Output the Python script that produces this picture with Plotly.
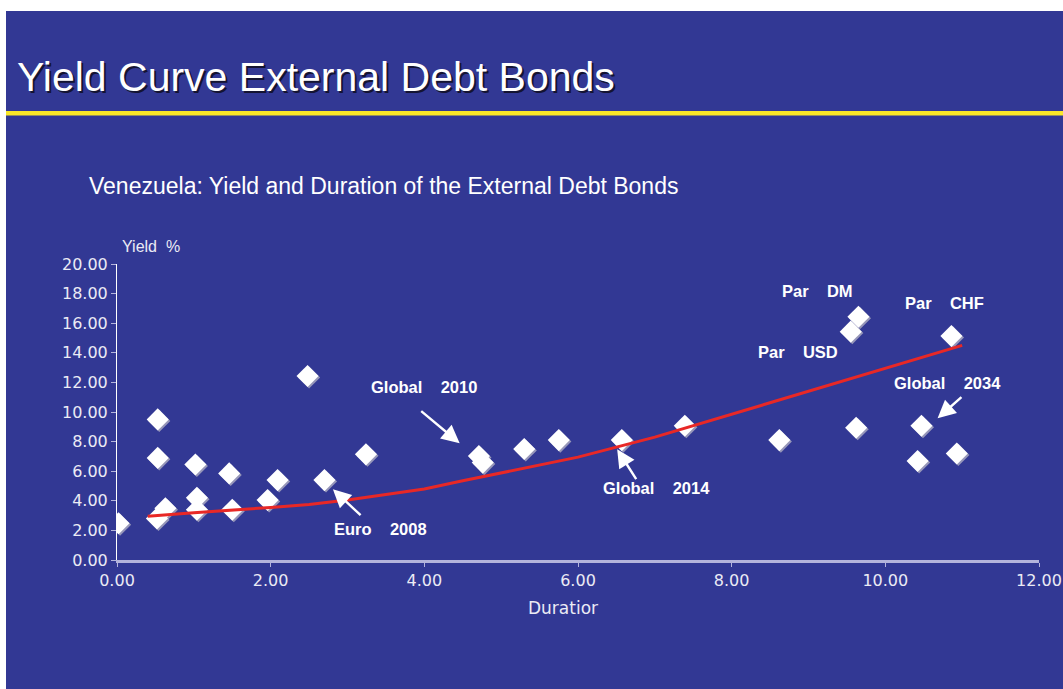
import plotly.graph_objects as go

# Bond duration (years) and yield (%)
duration = [0.02, 0.53, 0.53, 0.52, 0.63, 1.02, 1.04, 1.04, 1.46, 1.50,
            1.96, 2.09, 2.48, 2.70, 3.24, 4.71, 4.76, 5.30, 5.75, 6.57,
            7.39, 8.62, 9.62, 9.55, 9.65, 10.86, 10.47, 10.42, 10.93]
yield_pct = [2.48, 9.50, 6.90, 2.80, 3.50, 6.45, 4.20, 3.40, 5.85, 3.40,
             4.05, 5.40, 12.43, 5.40, 7.14, 7.03, 6.58, 7.50, 8.10, 8.10,
             9.07, 8.10, 8.94, 15.43, 16.44, 15.14, 9.07, 6.69, 7.20]

# Fitted yield curve
trend_x = [0.4, 1.0, 2.0, 2.5, 3.0, 3.5, 4.0, 4.5, 5.0, 6.0, 7.0, 8.0, 9.0, 10.0, 11.0]
trend_y = [2.95, 3.2, 3.55, 3.75, 4.05, 4.4, 4.8, 5.35, 5.9, 6.95, 8.3, 9.85, 11.4, 12.9, 14.5]

x_ticks = [0, 2, 4, 6, 8, 10, 12]
y_ticks = [0, 2, 4, 6, 8, 10, 12, 14, 16, 18, 20]

# Bond labels: (text, text_x, text_y)
labels = [
    ("Global    2010", 4.00, 11.69),
    ("Euro    2008", 3.43, 2.09),
    ("Global    2014", 7.02, 4.84),
    ("Global    2034", 10.81, 11.94),
    ("Par    DM", 9.12, 18.20),
    ("Par    CHF", 10.77, 17.39),
    ("Par    USD", 8.86, 14.07),
]
# Pointer arrows: (tail_x, tail_y, head_x, head_y)
arrows = [
    (3.94, 10.14, 4.46, 7.89),
    (3.19, 2.93, 2.81, 4.78),
    (6.77, 5.36, 6.51, 7.48),
    (11.01, 11.10, 10.68, 9.57),
]

W, H = 1063, 689
ML, MR, MT, MB = 117, 24, 264, 129
PW, PH = W - ML - MR, H - MT - MB


def px_x(p):
    return (p - ML) / PW


def px_y(p):
    return (H - MB - p) / PH


BLUE = "rgb(50,56,148)"
TXT = "rgb(235,235,245)"
LAV = "rgb(180,180,220)"

fig = go.Figure()

# subtle drop shadow under the diamonds
fig.add_trace(go.Scatter(
    x=[v + 0.02 for v in duration], y=[v - 0.1 for v in yield_pct],
    mode="markers", hoverinfo="skip",
    marker=dict(symbol="diamond", size=17, color="rgb(150,150,185)", line=dict(width=0)),
    showlegend=False))
fig.add_trace(go.Scatter(
    x=duration, y=yield_pct, mode="markers",
    marker=dict(symbol="diamond", size=17, color="white", line=dict(width=0)),
    showlegend=False))
fig.add_trace(go.Scatter(
    x=trend_x, y=trend_y, mode="lines",
    line=dict(color="rgb(232,40,38)", width=3),
    showlegend=False))

shapes = [
    dict(type="rect", xref="paper", yref="paper", layer="below",
         x0=px_x(6), x1=px_x(W + 5), y0=px_y(H + 5), y1=px_y(11),
         fillcolor=BLUE, line=dict(width=0)),
    dict(type="rect", xref="paper", yref="paper", layer="below",
         x0=px_x(6), x1=px_x(W + 5), y0=px_y(115.5), y1=px_y(111),
         fillcolor="rgb(250,232,40)", line=dict(width=0)),
]

annotations = []
# title with shadow
title = "Yield Curve External Debt Bonds"
for dx, dy, col in [(2, 2, "rgb(20,20,50)"), (0, 0, "white")]:
    annotations.append(dict(
        text=title, xref="paper", yref="paper",
        x=px_x(15 + dx), y=px_y(77 + dy), xanchor="left", yanchor="middle",
        showarrow=False, font=dict(family="Liberation Sans, Arial", size=41, color=col)))

annotations.append(dict(
    text="Venezuela: Yield and Duration of the External Debt Bonds",
    xref="paper", yref="paper", x=px_x(87), y=px_y(186),
    xanchor="left", yanchor="middle", showarrow=False,
    font=dict(family="Liberation Sans, Arial", size=23, color="white")))

annotations.append(dict(
    text="Yield\u00a0\u00a0%", xref="paper", yref="paper", x=px_x(120), y=px_y(246),
    xanchor="left", yanchor="middle", showarrow=False,
    font=dict(family="Liberation Sans, Arial", size=16, color=TXT)))

annotations.append(dict(
    text="Duratior", xref="paper", yref="paper", x=px_x(563), y=px_y(608),
    xanchor="center", yanchor="middle", showarrow=False,
    font=dict(family="DejaVu Sans", size=17, color=TXT)))

for text, tx, ty in labels:
    annotations.append(dict(
        text="<b>" + text.replace(" ", "\u00a0") + "</b>", x=tx, y=ty,
        xref="x", yref="y", showarrow=False, xanchor="center", yanchor="middle",
        font=dict(family="Liberation Sans, Arial", size=16.5, color="white")))

for x0, y0, x1, y1 in arrows:
    annotations.append(dict(
        text="", x=x1, y=y1, ax=x0, ay=y0, xref="x", yref="y", axref="x", ayref="y",
        showarrow=True, arrowhead=2, arrowsize=1.5, arrowwidth=2.4, arrowcolor="white"))

fig.update_layout(
    width=W, height=H,
    margin=dict(l=ML, r=MR, t=MT, b=MB, pad=0, autoexpand=False),
    paper_bgcolor="white", plot_bgcolor="rgba(0,0,0,0)",
    shapes=shapes, annotations=annotations,
    xaxis=dict(range=[0, 12], tickvals=x_ticks, tickformat=".2f",
               showgrid=False, zeroline=False, automargin=False,
               showline=True, linecolor=LAV, linewidth=3,
               ticks="outside", ticklen=4, tickcolor=LAV, tickwidth=1,
               tickfont=dict(family="DejaVu Sans", size=16, color=TXT)),
    yaxis=dict(range=[0, 20], tickvals=y_ticks, tickformat=".2f",
               showgrid=False, zeroline=False, automargin=False,
               showline=True, linecolor="white", linewidth=1,
               ticks="outside", ticklen=5, tickcolor=LAV, tickwidth=1,
               tickfont=dict(family="DejaVu Sans", size=16, color=TXT)),
)

fig.write_html("out.html")
